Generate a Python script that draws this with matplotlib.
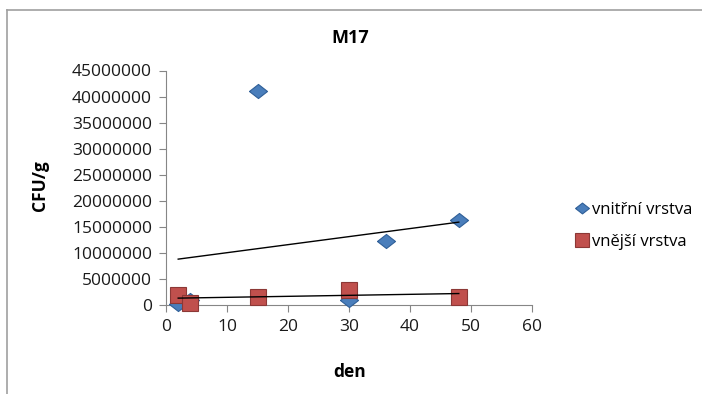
import numpy as np
import matplotlib
matplotlib.use('Agg')
from matplotlib import pyplot as plt
from matplotlib.lines import Line2D
from matplotlib.ticker import FuncFormatter

plt.rcParams['font.family'] = ['Open Sans', 'DejaVu Sans']

# data
den_inner = [2, 4, 15, 30, 36, 48]
cfu_inner = [200000, 900000, 41000000, 1000000, 12300000, 16400000]
den_outer = [2, 4, 15, 30, 48]
cfu_outer = [1900000, 300000, 1600000, 2900000, 1600000]
labels = ['vnitřní vrstva', 'vnější vrstva']
x_ticks = [0, 10, 20, 30, 40, 50, 60]
y_ticks = list(range(0, 45000001, 5000000))

blue = '#4a7ebb'
red = '#c0504d'
diamond = [(-1, 0), (0, -0.78), (1, 0), (0, 0.78), (-1, 0)]

fig = plt.figure(figsize=(7.02, 3.94), dpi=100)
ax = fig.add_axes([166 / 702, 1 - 305 / 394, 366 / 702, 234.5 / 394])

ax.plot(den_inner, cfu_inner, linestyle='none', marker=diamond, ms=13,
        mfc=blue, mec='#2f5f98', mew=0.8, zorder=3)
ax.plot(den_outer, cfu_outer, linestyle='none', marker='s', ms=12,
        mfc=red, mec='#8c3836', mew=0.8, zorder=3)

# linear trendlines
for xs, ys in [(den_inner, cfu_inner), (den_outer, cfu_outer)]:
    k, b = np.polyfit(xs, ys, 1)
    xx = np.array([min(xs), max(xs)])
    ax.plot(xx, k * xx + b, color='black', lw=1, zorder=4)

ax.set_xlim(0, 60)
ax.set_ylim(0, 45000000)
ax.set_xticks(x_ticks)
ax.set_yticks(y_ticks)
ax.yaxis.set_major_formatter(FuncFormatter(lambda v, p: '%d' % v))

for s in ['top', 'right']:
    ax.spines[s].set_visible(False)
for s in ['left', 'bottom']:
    ax.spines[s].set_color('#868686')
    ax.spines[s].set_linewidth(0.8)
ax.tick_params(axis='both', direction='out', length=5, color='#868686',
               labelsize=12.5, labelcolor='#1a1a1a', pad=5)
for ln in ax.lines:
    ln.set_clip_on(False)

ax.set_ylabel('CFU/g', fontsize=12.5, fontweight='bold')
ax.yaxis.set_label_coords((49 - 166) / 366, 0.51)
ax.set_xlabel('den', fontsize=12.5, fontweight='bold')
ax.xaxis.set_label_coords((350 - 166) / 366, (305 - 363) / 234.5)

fig.text(350 / 702, 1 - 38 / 394, 'M17', ha='center', va='center',
         fontsize=13, fontweight='bold')

handles = [
    Line2D([], [], linestyle='none', marker=diamond, ms=10, mfc=blue, mec='#2f5f98', mew=0.8),
    Line2D([], [], linestyle='none', marker='s', ms=10, mfc=red, mec='#8c3836', mew=0.8),
]
fig.legend(handles, labels, loc='center left', bbox_to_anchor=(560 / 702, 1 - 226 / 394),
           frameon=False, fontsize=12, handlelength=0.8, handletextpad=0.2,
           labelspacing=0.95)

# chart area border (only top and left edges visible)
fig.add_artist(Line2D([7 / 702, 1], [1 - 10 / 394] * 2, color='#a0a0a0', lw=1.2,
                      transform=fig.transFigure))
fig.add_artist(Line2D([7 / 702] * 2, [0, 1 - 10 / 394], color='#a0a0a0', lw=1.2,
                      transform=fig.transFigure))

fig.savefig('out.png', dpi=100)
